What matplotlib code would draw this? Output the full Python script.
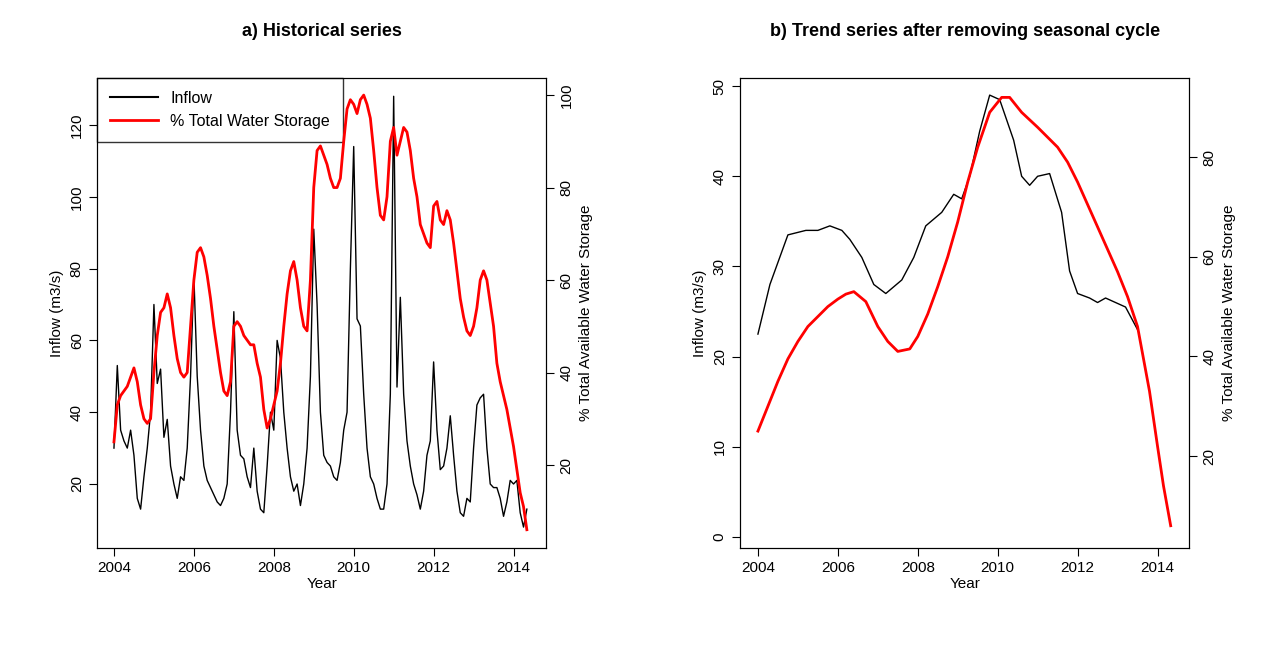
import numpy as np
import matplotlib.pyplot as plt

# =====================================
# Data (monthly, Jan 2004 - May 2014)
# =====================================
inflow = [
    30, 53, 35, 32, 30, 35, 28, 16, 13, 22, 30, 40,
    70, 48, 52, 33, 38, 25, 20, 16, 22, 21, 30, 50,
    78, 50, 35, 25, 21, 19, 17, 15, 14, 16, 20, 40,
    68, 35, 28, 27, 22, 19, 30, 18, 13, 12, 25, 40,
    35, 60, 55, 40, 30, 22, 18, 20, 14, 20, 30, 50,
    91, 70, 40, 28, 26, 25, 22, 21, 26, 35, 40, 80,
    114, 66, 64, 45, 30, 22, 20, 16, 13, 13, 20, 45,
    128, 47, 72, 45, 32, 25, 20, 17, 13, 18, 28, 32,
    54, 35, 24, 25, 30, 39, 28, 18, 12, 11, 16, 15,
    30, 42, 44, 45, 30, 20, 19, 19, 16, 11, 15, 21,
    20, 21, 12, 8, 13,
]
storage = [
    25, 33, 35, 36, 37, 39, 41, 38, 33, 30, 29, 30,
    40, 48, 53, 54, 57, 54, 48, 43, 40, 39, 40, 50,
    60, 66, 67, 65, 61, 56, 50, 45, 40, 36, 35, 38,
    50, 51, 50, 48, 47, 46, 46, 42, 39, 32, 28, 30,
    33, 36, 42, 50, 57, 62, 64, 60, 54, 50, 49, 60,
    80, 88, 89, 87, 85, 82, 80, 80, 82, 90, 97, 99,
    98, 96, 99, 100, 98, 95, 88, 80, 74, 73, 78, 90,
    93, 87, 90, 93, 92, 88, 82, 78, 72, 70, 68, 67,
    76, 77, 73, 72, 75, 73, 68, 62, 56, 52, 49, 48,
    50, 54, 60, 62, 60, 55, 50, 42, 38, 35, 32, 28,
    24, 19, 14, 11, 6,
]
months = 2004 + np.arange(len(inflow)) / 12

# trend series (read at irregular points)
trend_inflow_x = [2004.0, 2004.3, 2004.75, 2005.2, 2005.5, 2005.8, 2006.1, 2006.3, 2006.6, 2006.9,
                  2007.2, 2007.6, 2007.9, 2008.2, 2008.6, 2008.9, 2009.1, 2009.3, 2009.55,
                  2009.8, 2010.05, 2010.4, 2010.6, 2010.8, 2011.0, 2011.3, 2011.6, 2011.8,
                  2012.0, 2012.3, 2012.5, 2012.7, 2013.2, 2013.5]
trend_inflow = [22.5, 28, 33.5, 34, 34, 34.5, 34, 33, 31, 28, 27, 28.5, 31, 34.5, 36, 38, 37.5,
                40, 45, 49, 48.5, 44, 40, 39, 40, 40.3, 36, 29.5, 27, 26.5, 26, 26.5, 25.5, 23]
trend_storage_x = [2004.0, 2004.25, 2004.5, 2004.75, 2005.0, 2005.25, 2005.5, 2005.75, 2006.0,
                   2006.2, 2006.4, 2006.7, 2007.0, 2007.25, 2007.5, 2007.8, 2008.0, 2008.25,
                   2008.5, 2008.75, 2009.0, 2009.25, 2009.5, 2009.8, 2010.1, 2010.3, 2010.6,
                   2011.0, 2011.5, 2011.75, 2012.0, 2012.5, 2013.0, 2013.25, 2013.5, 2013.8,
                   2014.0, 2014.15, 2014.33]
trend_storage = [25, 30, 35, 39.5, 43, 46, 48, 50, 51.5, 52.5, 53, 51, 46, 43, 41, 41.5, 44, 48.5,
                 54, 60, 67, 75, 82, 89, 92, 92, 89, 86, 82, 79, 75, 66, 57, 52, 46, 33,
                 22, 14, 6]

plt.rcParams["font.family"] = ["Liberation Sans", "DejaVu Sans"]
plt.rcParams["font.size"] = 11

fig = plt.figure(figsize=(12.88, 6.46), dpi=100)


def style(ax):
    ax.tick_params(direction="out", length=6)
    for lab in ax.get_yticklabels():
        lab.set_rotation(90)
        lab.set_va("center")


# =====================================
# Panel a
# =====================================
ax1 = fig.add_axes([0.0753, 0.1517, 0.349, 0.7276])
ax1.plot(months, inflow, color="black", lw=1, label="Inflow")
ax1.set_xlim(2003.575, 2014.825)
ax1.set_ylim(2.17, 133.1)
ax1.set_yticks([20, 40, 60, 80, 100, 120])
ax1.set_xticks([2004, 2006, 2008, 2010, 2012, 2014])
ax1.set_xlabel("Year", labelpad=1)
ax1.set_ylabel("Inflow (m3/s)")
ax1.set_title("a) Historical series", fontweight="bold", fontsize=13, pad=30)
ax2 = ax1.twinx()
ax2.plot(months, storage, color="red", lw=2, label="% Total Water Storage")
ax2.set_ylim(2.05, 103.7)
ax2.set_yticks([20, 40, 60, 80, 100])
ax2.set_ylabel("% Total Available Water Storage")
style(ax1)
style(ax2)
h = ax1.get_lines() + ax2.get_lines()
leg = ax1.legend(h, [l.get_label() for l in h], loc="upper left",
                 bbox_to_anchor=(0, 1), fancybox=False, edgecolor="black",
                 borderaxespad=0, handlelength=3, borderpad=0.8,
                 labelspacing=0.5, fontsize=11.5)
leg.get_frame().set_linewidth(1)
leg.get_lines()[0].set_linewidth(1.5)

# =====================================
# Panel b
# =====================================
ax3 = fig.add_axes([0.5745, 0.1517, 0.349, 0.7276])
ax3.plot(trend_inflow_x, trend_inflow, color="black", lw=1)
ax3.set_xlim(2003.55, 2014.8)
ax3.set_ylim(-1.22, 50.9)
ax3.set_yticks([0, 10, 20, 30, 40, 50])
ax3.set_xticks([2004, 2006, 2008, 2010, 2012, 2014])
ax3.set_xlabel("Year", labelpad=1)
ax3.set_ylabel("Inflow (m3/s)")
ax3.set_title("b) Trend series after removing seasonal cycle", fontweight="bold",
              fontsize=13, pad=30)
ax4 = ax3.twinx()
ax4.plot(trend_storage_x, trend_storage, color="red", lw=2)
ax4.set_ylim(1.53, 95.9)
ax4.set_yticks([20, 40, 60, 80])
ax4.set_ylabel("% Total Available Water Storage")
style(ax3)
style(ax4)

fig.savefig("out.png", dpi=100)
